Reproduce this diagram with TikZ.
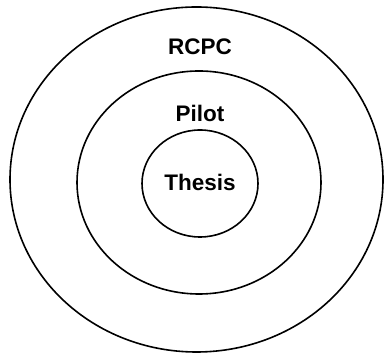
\documentclass[tikz,border=0pt]{standalone}
\usepackage{fontspec}
\setmainfont{Liberation Sans}
\tikzset{
  ring/.style={line width=1.6pt},
  lbl/.style={font=\fontsize{22.5}{26}\selectfont\bfseries,inner sep=0pt}
}
\begin{document}
\begin{tikzpicture}[x=1pt,y=1pt,line cap=round,line join=round]
  \useasboundingbox (0,0) rectangle (385,355);
  % rings, outer to inner
  \draw[ring] (196.5,175.5) ellipse [x radius=186.5,y radius=172.5];
  \draw[ring] (199,172.5) ellipse [x radius=122,y radius=111.5];
  \draw[ring] (200,171.5) ellipse [x radius=58,y radius=53.5];
  % labels
  \node[lbl] (rcpc) at (200,308) {RCPC};
  \node[lbl] (pilot) at (200,242) {Pilot};
  \node[lbl] (thesis) at (200,173) {Thesis};
\end{tikzpicture}
\end{document}
